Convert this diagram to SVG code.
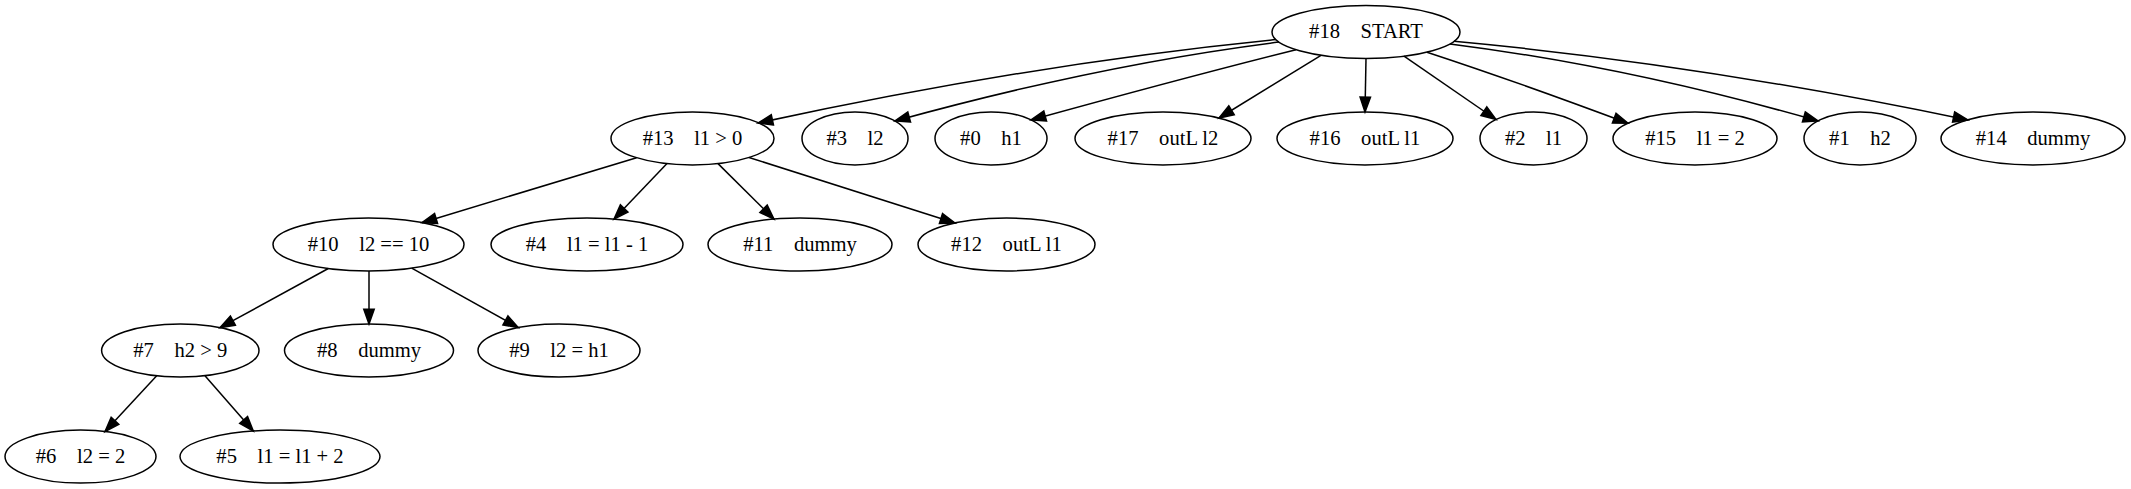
<svg xmlns="http://www.w3.org/2000/svg" width="2131" height="489" viewBox="0 0 2131 489">
<style>
.node ellipse{fill:none;stroke:#000;stroke-width:1.5}
.node text{font-family:"Liberation Serif","Times New Roman",serif;font-size:20.6px;text-anchor:middle;fill:#000;white-space:pre}
.edges path{fill:none;stroke:#000;stroke-width:1.5;marker-end:url(#arr)}
</style>
<defs>
<marker id="arr" markerUnits="userSpaceOnUse" markerWidth="18" markerHeight="14" refX="14.7" refY="5.2" orient="auto" overflow="visible">
<path d="M0,0 L14.7,5.2 L0,10.4 Z" fill="#000" stroke="#000" stroke-width="1.5"/>
</marker>
</defs>
<rect width="2131" height="489" fill="#fff"/>
<g class="edges">
<path d="M1276,39.6 C1105,56.6 929,86 758,123"/>
<path d="M1279,42 C1152,58 1022,86 895,121"/>
<path d="M1296,49.7 C1208,71.7 1119,95.7 1031,120"/>
<path d="M1321,55.3 L1219,118"/>
<path d="M1366,58.5 L1365,111.9"/>
<path d="M1404,56.2 L1496,119.5"/>
<path d="M1427,52.2 C1494,74.2 1561,98.2 1628,123.3"/>
<path d="M1450,43.9 C1571,59.3 1697,86.3 1818,121"/>
<path d="M1454,41.3 C1624,57 1798,84.6 1968,120"/>
<path d="M636.6,157.7 L422,222.7"/>
<path d="M667,163.6 L614,219.1"/>
<path d="M718,163.6 L774,219.1"/>
<path d="M749,157.5 L955,223"/>
<path d="M328.3,268.5 L220,327.7"/>
<path d="M369,271 L369,324"/>
<path d="M411.7,268.1 L518.3,327.6"/>
<path d="M156.7,375.8 L105,431.6"/>
<path d="M205,375.7 L253.3,431.1"/>
</g>
<g id="n18" class="node"><ellipse cx="1366" cy="32" rx="94" ry="26.5"/><text x="1366" y="38.2" xml:space="preserve">#18    START</text></g>
<g id="n13" class="node"><ellipse cx="692.5" cy="138.4" rx="81.5" ry="26.5"/><text x="692.5" y="144.6" xml:space="preserve">#13    l1 &gt; 0</text></g>
<g id="n3" class="node"><ellipse cx="855" cy="138.4" rx="53" ry="26.5"/><text x="855" y="144.6" xml:space="preserve">#3    l2</text></g>
<g id="n0" class="node"><ellipse cx="991" cy="138.4" rx="56" ry="26.5"/><text x="991" y="144.6" xml:space="preserve">#0    h1</text></g>
<g id="n17" class="node"><ellipse cx="1163" cy="138.4" rx="88" ry="26.5"/><text x="1163" y="144.6" xml:space="preserve">#17    outL l2</text></g>
<g id="n16" class="node"><ellipse cx="1365" cy="138.4" rx="88" ry="26.5"/><text x="1365" y="144.6" xml:space="preserve">#16    outL l1</text></g>
<g id="n2" class="node"><ellipse cx="1533.5" cy="138.4" rx="53.5" ry="26.5"/><text x="1533.5" y="144.6" xml:space="preserve">#2    l1</text></g>
<g id="n15" class="node"><ellipse cx="1695" cy="138.4" rx="82" ry="26.5"/><text x="1695" y="144.6" xml:space="preserve">#15    l1 = 2</text></g>
<g id="n1" class="node"><ellipse cx="1860" cy="138.4" rx="56" ry="26.5"/><text x="1860" y="144.6" xml:space="preserve">#1    h2</text></g>
<g id="n14" class="node"><ellipse cx="2033" cy="138.4" rx="92" ry="26.5"/><text x="2033" y="144.6" xml:space="preserve">#14    dummy</text></g>
<g id="n10" class="node"><ellipse cx="368.5" cy="244.5" rx="95.5" ry="26.5"/><text x="368.5" y="250.7" xml:space="preserve">#10    l2 == 10</text></g>
<g id="n4" class="node"><ellipse cx="587" cy="244.5" rx="96" ry="26.5"/><text x="587" y="250.7" xml:space="preserve">#4    l1 = l1 - 1</text></g>
<g id="n11" class="node"><ellipse cx="800" cy="244.5" rx="92" ry="26.5"/><text x="800" y="250.7" xml:space="preserve">#11    dummy</text></g>
<g id="n12" class="node"><ellipse cx="1006.5" cy="244.5" rx="88.5" ry="26.5"/><text x="1006.5" y="250.7" xml:space="preserve">#12    outL l1</text></g>
<g id="n7" class="node"><ellipse cx="180.3" cy="350.5" rx="78.7" ry="26.5"/><text x="180.3" y="356.7" xml:space="preserve">#7    h2 &gt; 9</text></g>
<g id="n8" class="node"><ellipse cx="369" cy="350.5" rx="84.5" ry="26.5"/><text x="369" y="356.7" xml:space="preserve">#8    dummy</text></g>
<g id="n9" class="node"><ellipse cx="559" cy="350.5" rx="81" ry="26.5"/><text x="559" y="356.7" xml:space="preserve">#9    l2 = h1</text></g>
<g id="n6" class="node"><ellipse cx="80.5" cy="456.6" rx="75.5" ry="26.5"/><text x="80.5" y="462.8" xml:space="preserve">#6    l2 = 2</text></g>
<g id="n5" class="node"><ellipse cx="280" cy="456.6" rx="100" ry="26.5"/><text x="280" y="462.8" xml:space="preserve">#5    l1 = l1 + 2</text></g>
</svg>
